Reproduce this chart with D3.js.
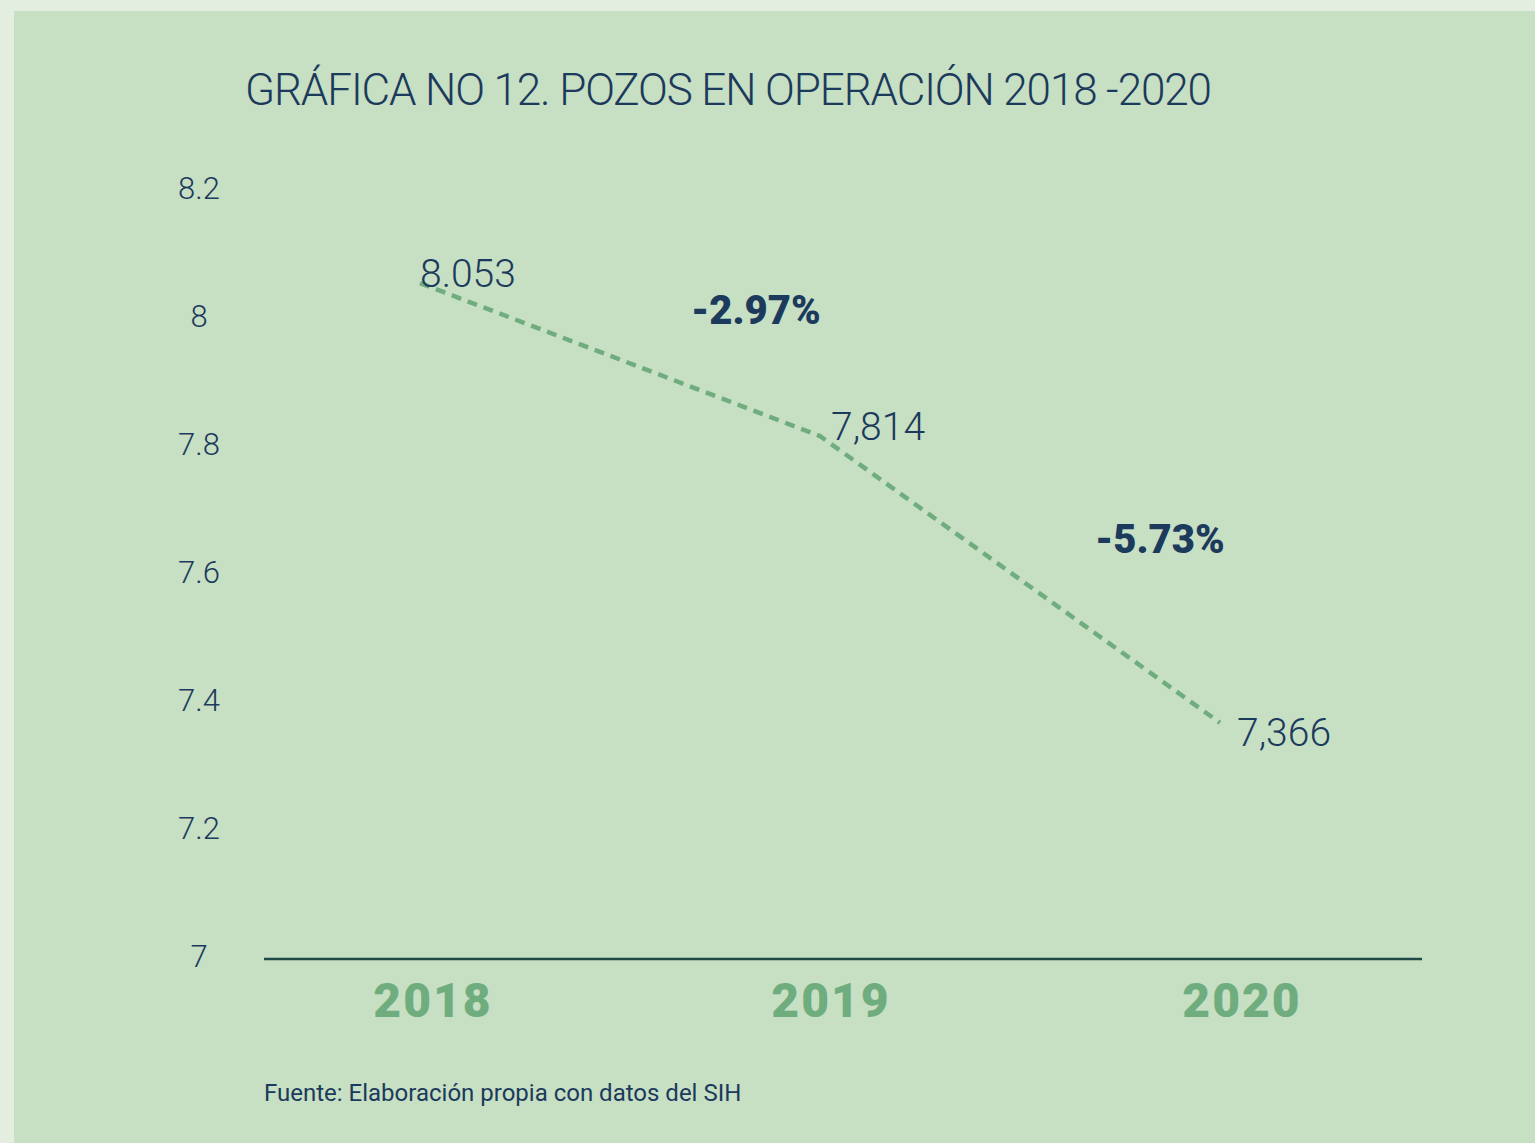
<!DOCTYPE html>
<html>
<head>
<meta charset="utf-8">
<script src="https://cdn.jsdelivr.net/npm/d3@7"></script>
<style>
  html, body { margin: 0; padding: 0; background: #e3ede0; }
  svg { display: block; }
</style>
</head>
<body>
<svg id="chart"></svg>
<script>
const years = ["2018", "2019", "2020"]
const values = [8.053, 7.814, 7.366]
const valueLabels = ["8.053", "7,814", "7,366"]
const changes = ["-2.97%", "-5.73%"]
const yTicks = [7, 7.2, 7.4, 7.6, 7.8, 8, 8.2]

const W = 1535, H = 1143
const navy = "#1b3a5c", green = "#6fad7f", panel = "#c7dfc3"

const svg = d3.select("#chart")
  .attr("width", W)
  .attr("height", H)

svg.append("rect")
  .attr("x", 14).attr("y", 11)
  .attr("width", W - 14).attr("height", H - 11)
  .attr("fill", panel)

svg.append("text")
  .attr("x", 245).attr("y", 105)
  .attr("font-family", "Roboto").attr("font-weight", 300)
  .attr("font-size", 44)
  .attr("letter-spacing", -1.1)
  .attr("fill", navy)
  .text("GRÁFICA NO 12. POZOS EN OPERACIÓN 2018 -2020")

let x = d3.scalePoint()
  .domain(years)
  .range([420, 1220])

let y = d3.scaleLinear()
  .domain([7, 8.2])
  .range([957, 189])

// y tick labels (no axis line)
let yAxis = d3.axisLeft(y)
  .tickValues(yTicks)
  .tickSize(0)
  .tickFormat(d3.format("~g"))

let gy = svg.append("g")
  .attr("transform", "translate(199,0)")
  .call(yAxis)
gy.select(".domain").remove()
gy.selectAll("text")
  .attr("x", 0)
  .attr("text-anchor", "middle")
  .attr("font-family", "Roboto").attr("font-weight", 300)
  .attr("font-size", 31)
  .attr("fill", navy)

// baseline
svg.append("line")
  .attr("x1", 264).attr("x2", 1422)
  .attr("y1", y(7) + 2).attr("y2", y(7) + 2)
  .attr("stroke", "#1d4a44")
  .attr("stroke-width", 2.5)

// x labels
svg.append("g")
  .selectAll("text")
  .data(years)
  .enter().append("text")
  .attr("x", (d, i) => x(d) + [13, 11, 22][i])
  .attr("y", 1017)
  .attr("text-anchor", "middle")
  .attr("font-family", "Roboto").attr("font-weight", 900)
  .attr("font-size", 48)
  .attr("letter-spacing", 2)
  .attr("fill", green)
  .text(d => d)

// dashed line
let line = d3.line()
  .x((d, i) => x(years[i]))
  .y(d => y(d))

svg.append("path")
  .datum(values)
  .attr("d", line)
  .attr("fill", "none")
  .attr("stroke", green)
  .attr("stroke-width", 4.5)
  .attr("stroke-dasharray", "10,7")

// value labels
svg.append("g")
  .selectAll("text")
  .data(values)
  .enter().append("text")
  .attr("x", (d, i) => x(years[i]) + [0, 11, 17][i])
  .attr("y", (d, i) => y(d) + [4, 4, 23][i])
  .attr("font-family", "Roboto").attr("font-weight", 300)
  .attr("font-size", 39)
  .attr("fill", navy)
  .text((d, i) => valueLabels[i])

// change labels
svg.append("g")
  .selectAll("text")
  .data(changes)
  .enter().append("text")
  .attr("x", (d, i) => (x(years[i]) + x(years[i + 1])) / 2 + [136, 140][i])
  .attr("y", (d, i) => (y(values[i]) + y(values[i + 1])) / 2 - [36, 26][i])
  .attr("text-anchor", "middle")
  .attr("font-family", "Roboto").attr("font-weight", 900)
  .attr("font-size", 40)
  .attr("fill", navy)
  .text(d => d)

svg.append("text")
  .attr("x", 264).attr("y", 1101)
  .attr("font-family", "Roboto").attr("font-weight", 400)
  .attr("font-size", 24)
  .attr("fill", navy)
  .text("Fuente: Elaboración propia con datos del SIH")
</script>
</body>
</html>
